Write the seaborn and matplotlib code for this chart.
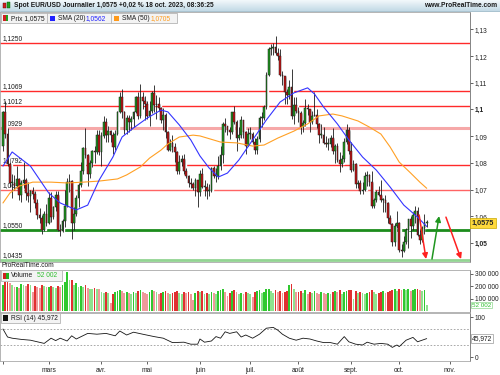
import numpy as np
import pandas as pd
import matplotlib
matplotlib.use('Agg')
import matplotlib.pyplot as plt
import seaborn as sns
from matplotlib.patches import Rectangle
from matplotlib.transforms import Affine2D, blended_transform_factory
from matplotlib.colors import LinearSegmentedColormap

# daily EUR/USD candles, 1 Feb -> 18 Oct 2023
first_open = 1.0863

closes_feb = [1.0990, 1.0910, 1.0795, 1.0725, 1.0726, 1.0712, 1.0740, 1.0678, 1.0723, 1.0737,
              1.0688, 1.0675, 1.0695, 1.0685, 1.0650, 1.0605, 1.0595, 1.0547, 1.0608, 1.0576]
highs_feb = [1.0995, 1.1033, 1.0930, 1.0805, 1.0760, 1.0755, 1.0790, 1.0745, 1.0735, 1.0805,
             1.0745, 1.0730, 1.0700, 1.0710, 1.0695, 1.0665, 1.0630, 1.0605, 1.0620, 1.0645]
lows_feb = [1.0845, 1.0895, 1.0790, 1.0710, 1.0670, 1.0700, 1.0705, 1.0660, 1.0655, 1.0705,
            1.0660, 1.0655, 1.0615, 1.0665, 1.0630, 1.0590, 1.0575, 1.0535, 1.0545, 1.0565]

closes_mar = [1.0667, 1.0598, 1.0634, 1.0681, 1.0549, 1.0546, 1.0581, 1.0640, 1.0730, 1.0733, 1.0576, 1.0610,
              1.0670, 1.0717, 1.0770, 1.0855, 1.0830, 1.0760, 1.0800, 1.0845, 1.0840, 1.0905, 1.0840]
highs_mar = [1.0690, 1.0690, 1.0640, 1.0695, 1.0695, 1.0570, 1.0590, 1.0700, 1.0745, 1.0760, 1.0735, 1.0635,
             1.0680, 1.0725, 1.0805, 1.0860, 1.0930, 1.0835, 1.0810, 1.0850, 1.0865, 1.0925, 1.0925]
lows_mar = [1.0570, 1.0580, 1.0590, 1.0620, 1.0545, 1.0525, 1.0540, 1.0560, 1.0635, 1.0690, 1.0516, 1.0550,
            1.0600, 1.0635, 1.0710, 1.0760, 1.0820, 1.0715, 1.0745, 1.0785, 1.0800, 1.0835, 1.0830]

closes_apr = [1.0900, 1.0955, 1.0905, 1.0920, 1.0905, 1.0860, 1.0910, 1.0990, 1.1045, 1.0990,
              1.0925, 1.0970, 1.0955, 1.0965, 1.0990, 1.1045, 1.0975, 1.1045, 1.1030, 1.1020]
highs_apr = [1.0915, 1.0975, 1.0970, 1.0940, 1.0925, 1.0915, 1.0925, 1.0995, 1.1065, 1.1075,
             1.0995, 1.0980, 1.0980, 1.0975, 1.0995, 1.1050, 1.1065, 1.1095, 1.1065, 1.1050]
lows_apr = [1.0790, 1.0895, 1.0880, 1.0880, 1.0880, 1.0835, 1.0850, 1.0905, 1.0985, 1.0970,
            1.0910, 1.0910, 1.0915, 1.0925, 1.0935, 1.0985, 1.0965, 1.0970, 1.1000, 1.0960]

closes_may = [1.0975, 1.0995, 1.1060, 1.1015, 1.1020, 1.1005, 1.0960, 1.0980, 1.0915, 1.0850, 1.0875, 1.0860,
              1.0840, 1.0770, 1.0805, 1.0815, 1.0770, 1.0750, 1.0725, 1.0720, 1.0705, 1.0735, 1.0690]
highs_may = [1.1030, 1.1030, 1.1070, 1.1092, 1.1055, 1.1045, 1.1010, 1.1005, 1.0985, 1.0920, 1.0890, 1.0905,
             1.0875, 1.0845, 1.0830, 1.0830, 1.0835, 1.0780, 1.0755, 1.0745, 1.0730, 1.0745, 1.0735]
lows_may = [1.0965, 1.0940, 1.0985, 1.0990, 1.0965, 1.0995, 1.0950, 1.0925, 1.0895, 1.0845, 1.0845, 1.0840,
            1.0805, 1.0760, 1.0760, 1.0790, 1.0760, 1.0745, 1.0710, 1.0705, 1.0700, 1.0675, 1.0635]

closes_jun = [1.0760, 1.0710, 1.0710, 1.0695, 1.0695, 1.0780, 1.0750, 1.0750, 1.0790, 1.0830, 1.0945,
              1.0940, 1.0925, 1.0915, 1.0990, 1.0955, 1.0895, 1.0905, 1.0960, 1.0915, 1.0865, 1.0910]
highs_jun = [1.0775, 1.0780, 1.0735, 1.0725, 1.0720, 1.0785, 1.0790, 1.0780, 1.0825, 1.0865, 1.0955,
             1.0970, 1.0940, 1.0935, 1.0990, 1.1012, 1.0960, 1.0935, 1.0975, 1.0960, 1.0920, 1.0930]
lows_jun = [1.0675, 1.0705, 1.0675, 1.0665, 1.0675, 1.0690, 1.0745, 1.0730, 1.0740, 1.0775, 1.0800,
            1.0915, 1.0905, 1.0890, 1.0910, 1.0945, 1.0845, 1.0885, 1.0895, 1.0895, 1.0835, 1.0865]

closes_jul = [1.0910, 1.0880, 1.0850, 1.0890, 1.0970, 1.0970, 1.1010, 1.1130, 1.1225, 1.1230, 1.1235,
              1.1210, 1.1200, 1.1130, 1.1125, 1.1065, 1.1055, 1.1085, 1.0975, 1.1015, 1.0995]
highs_jul = [1.0935, 1.0915, 1.0895, 1.0900, 1.0975, 1.0990, 1.1015, 1.1140, 1.1235, 1.1245, 1.1250,
             1.1276, 1.1230, 1.1225, 1.1145, 1.1125, 1.1075, 1.1110, 1.1150, 1.1045, 1.1045]
lows_jul = [1.0890, 1.0870, 1.0835, 1.0835, 1.0880, 1.0935, 1.0960, 1.1000, 1.1125, 1.1205, 1.1205,
            1.1205, 1.1185, 1.1125, 1.1090, 1.1020, 1.1020, 1.1040, 1.0965, 1.0945, 1.0985]

closes_aug = [1.0985, 1.0935, 1.0950, 1.1005, 1.1000, 1.0955, 1.0975, 1.0980, 1.0945, 1.0905, 1.0905, 1.0875,
              1.0870, 1.0870, 1.0895, 1.0845, 1.0865, 1.0810, 1.0795, 1.0815, 1.0880, 1.0925, 1.0845]
highs_aug = [1.1010, 1.0995, 1.0960, 1.1040, 1.1020, 1.1000, 1.0995, 1.1064, 1.1000, 1.0950, 1.0945, 1.0935,
             1.0900, 1.0895, 1.0905, 1.0930, 1.0870, 1.0875, 1.0840, 1.0830, 1.0895, 1.0945, 1.0935]
lows_aug = [1.0955, 1.0910, 1.0915, 1.0940, 1.0980, 1.0915, 1.0945, 1.0975, 1.0930, 1.0875, 1.0895, 1.0870,
            1.0860, 1.0850, 1.0860, 1.0835, 1.0800, 1.0805, 1.0765, 1.0785, 1.0805, 1.0870, 1.0835]

closes_sep = [1.0775, 1.0795, 1.0720, 1.0725, 1.0695, 1.0700, 1.0750, 1.0755, 1.0730, 1.0640, 1.0660,
              1.0690, 1.0680, 1.0660, 1.0660, 1.0650, 1.0595, 1.0570, 1.0505, 1.0565, 1.0575]
highs_sep = [1.0880, 1.0810, 1.0800, 1.0735, 1.0735, 1.0730, 1.0765, 1.0770, 1.0760, 1.0770, 1.0670,
             1.0700, 1.0715, 1.0735, 1.0670, 1.0680, 1.0655, 1.0605, 1.0575, 1.0575, 1.0620]
lows_sep = [1.0765, 1.0770, 1.0705, 1.0705, 1.0685, 1.0685, 1.0695, 1.0715, 1.0715, 1.0630, 1.0630,
            1.0655, 1.0675, 1.0655, 1.0615, 1.0615, 1.0575, 1.0570, 1.0490, 1.0490, 1.0555]

closes_oct = [1.0475, 1.0470, 1.0505, 1.0550, 1.0590, 1.0565, 1.0605, 1.0620, 1.0530, 1.0510, 1.0555, 1.0575, 1.0575]
highs_oct = [1.0580, 1.0495, 1.0525, 1.0555, 1.0590, 1.0600, 1.0615, 1.0640, 1.0635, 1.0550, 1.0565, 1.0610, 1.0585]
lows_oct = [1.0465, 1.0448, 1.0465, 1.0495, 1.0480, 1.0520, 1.0550, 1.0575, 1.0525, 1.0495, 1.0505, 1.0535, 1.0560]

# volume, thousands
vol_feb = [210, 231, 238, 224, 210, 196, 196, 189, 218, 210, 203, 218, 210, 154, 203, 196, 189, 210, 203, 196]
vol_mar = [196, 203, 196, 189, 203, 196, 210, 238, 317, 252, 252, 210, 224, 196, 203, 196, 210, 189, 182, 175,
           189, 182, 175]
vol_apr = [154, 147, 154, 147, 62, 140, 154, 161, 168, 161, 147, 154, 147, 140, 154, 147, 161, 168, 154, 147]
vol_may = [140, 154, 168, 161, 154, 140, 147, 154, 161, 147, 140, 147, 154, 161, 147, 140, 154, 147, 154, 140,
           90, 147, 161]
vol_jun = [154, 161, 140, 147, 140, 154, 147, 140, 161, 168, 175, 154, 118, 147, 161, 168, 154, 140, 147, 140,
           154, 147]
vol_jul = [140, 110, 154, 161, 168, 147, 154, 175, 182, 161, 147, 168, 154, 161, 147, 154, 161, 210, 217, 175, 154]
vol_aug = [154, 161, 147, 168, 140, 154, 147, 161, 147, 140, 154, 147, 140, 147, 140, 154, 161, 154, 168, 140,
           154, 161, 168]
vol_sep = [168, 98, 161, 147, 154, 147, 140, 147, 154, 168, 154, 140, 147, 154, 161, 147, 154, 161, 168, 175, 161]
vol_oct = [175, 168, 175, 168, 175, 161, 168, 175, 182, 168, 161, 168, 52.002]

# indicators (candle index, value)
sma20_idx = [0, 4, 12, 20, 25, 32, 37, 42, 48, 52, 57, 63, 69, 72, 77, 82, 86, 90, 94, 98, 103, 109, 115, 121,
             127, 133, 136, 140, 146, 151, 157, 163, 169, 175, 181, 185]
sma20_vals = [1.0788, 1.0841, 1.0788, 1.0687, 1.0650, 1.0624, 1.0642, 1.0736, 1.0822, 1.0897, 1.0931, 1.0968,
              1.0998, 1.0991, 1.0942, 1.0886, 1.0826, 1.0781, 1.0747, 1.0762, 1.0811, 1.0886, 1.0961, 1.1028,
              1.1062, 1.1081, 1.1058, 1.1009, 1.0946, 1.0886, 1.0822, 1.0773, 1.0710, 1.0642, 1.0597, 1.0562]
sma50_idx = [0, 3, 7, 13, 21, 28, 35, 42, 50, 54, 60, 64, 69, 72, 77, 83, 86, 95, 102, 109, 114, 120, 127, 133,
             138, 144, 148, 155, 160, 165, 169, 173, 178, 182, 185]
sma50_vals = [1.0650, 1.0687, 1.0713, 1.0728, 1.0728, 1.0725, 1.0728, 1.0732, 1.0740, 1.0755, 1.0785, 1.0818,
              1.0848, 1.0871, 1.0897, 1.0904, 1.0901, 1.0878, 1.0875, 1.0863, 1.0867, 1.0893, 1.0919, 1.0946,
              1.0976, 1.0983, 1.0976, 1.0957, 1.0934, 1.0908, 1.0860, 1.0803, 1.0762, 1.0728, 1.0705]
rsi_idx = [0, 1, 2, 4, 8, 12, 18, 21, 23, 25, 28, 30, 32, 37, 41, 45, 49, 51, 54, 57, 61, 66, 70, 74, 79, 82, 85,
           86, 88, 91, 93, 95, 97, 99, 102, 104, 106, 109, 112, 115, 118, 120, 122, 125, 128, 131, 134, 137, 140,
           143, 146, 149, 151, 154, 157, 159, 162, 165, 168, 170, 172, 173, 176, 179, 181, 185]
rsi_vals = [70, 60, 50, 47, 44, 42, 34, 47, 41, 47, 40, 53, 45, 59, 57, 59, 53, 65, 55, 62, 57, 51, 47, 36, 37,
            32, 32, 45, 37, 40, 51, 47, 63, 59, 63, 50, 55, 47, 57, 72, 74, 67, 57, 47, 42, 47, 45, 40, 36, 36,
            32, 51, 38, 32, 30, 37, 32, 34, 32, 24, 30, 26, 42, 49, 38, 45.972]

# horizontal support / resistance levels
levels = [1.1250, 1.1069, 1.1012, 1.0929, 1.0792, 1.0697, 1.0550, 1.0435]
level_labels = ['1,1250', '1,1069', '1,1012', '1,0929', '1,0792', '1,0697', '1,0550', '1,0435']
level_colors = ['#ff2a2a', '#ff2a2a', '#ff2a2a', '#f6a8a8', '#ff2a2a', '#ff6464', '#1c8c1c', '#92d492']
level_widths = [1.0, 1.0, 1.0, 2.2, 1.0, 1.0, 2.0, 2.0]

# hand drawn arrows (candle index, price)
arrows = [((181.7, 1.0605), (184.7, 1.0440), '#ff2020'),
          ((187.3, 1.0440), (190.4, 1.0601), '#1f961f'),
          ((193.4, 1.0597), (200.0, 1.0440), '#ff2020')]

month_labels = ['', 'mars', 'avr.', 'mai', 'juin', 'juil.', 'août', 'sept.', 'oct.', 'nov.']

closes = (closes_feb + closes_mar + closes_apr + closes_may + closes_jun + closes_jul + closes_aug
          + closes_sep + closes_oct)
highs = highs_feb + highs_mar + highs_apr + highs_may + highs_jun + highs_jul + highs_aug + highs_sep + highs_oct
lows = lows_feb + lows_mar + lows_apr + lows_may + lows_jun + lows_jul + lows_aug + lows_sep + lows_oct
volumes = vol_feb + vol_mar + vol_apr + vol_may + vol_jun + vol_jul + vol_aug + vol_sep + vol_oct

c = np.array(closes)
o = np.r_[first_open, c[:-1]]       # fx: open = previous close
h = np.array(highs)
l = np.array(lows)
v = np.array(volumes) * 1000
idx = np.arange(len(c))

days = pd.bdate_range('2023-02-01', '2023-10-18')
ext = pd.bdate_range('2023-02-01', '2023-11-30')
month_pos = [int(np.argmax(ext.month == m)) for m in range(2, 12)]

sns.set_style('white')
plt.rcParams['font.family'] = ['Liberation Sans', 'DejaVu Sans']
FS = 4.8

W, H = 500, 375
fig = plt.figure(figsize=(5, 3.75), dpi=100, facecolor='white')
pix = Affine2D().scale(1 / W, -1 / H).translate(0, 1) + fig.transFigure


def rect(x0, y0, x1, y1):
    return [x0 / W, 1 - y1 / H, (x1 - x0) / W, (y1 - y0) / H]


def box(x0, y0, x1, y1, fc='#f3f3f3', ec='#b5b5b5'):
    fig.add_artist(Rectangle((x0, y0), x1 - x0, y1 - y0, transform=pix, fc=fc, ec=ec, lw=0.6, zorder=20))


def label(x, y, s, **kw):
    kw.setdefault('fontsize', FS)
    kw.setdefault('color', '#1a1a1a')
    fig.text(x, y, s, transform=pix, va='center', zorder=21, **kw)


def style_axis(a):
    for sp in a.spines.values():
        sp.set_color('#a8a8a8')
        sp.set_linewidth(0.6)
    a.spines['right'].set_color('#707070')
    a.tick_params(axis='y', which='both', left=False, right=True, labelleft=False, labelright=True,
                  length=2.5, width=0.5, pad=1, labelsize=FS, colors='#222222', direction='out')
    a.tick_params(axis='x', bottom=False, labelbottom=False)
    a.set_xlim(-1.3, 203.9)
    a.grid(False)


# ---- price panel
ax = fig.add_axes(rect(0, 12, 470, 262))
style_axis(ax)
ax.set_ylim(1.0429, 1.1365)
bt = blended_transform_factory(ax.transAxes, ax.transData)

for lev, lab, col, lw in zip(levels, level_labels, level_colors, level_widths):
    ax.axhline(lev, color=col, lw=lw, zorder=1)
    ax.text(0.006, lev + 0.0004, lab, transform=bt, fontsize=FS, color='#1a1a1a', va='bottom', zorder=1.5)

up = c >= o
body_lo = np.minimum(o, c)
body_h = np.maximum(np.abs(c - o), 0.0003)
ax.bar(idx + 0.5, body_h, bottom=body_lo, width=0.6, color='#c2c2c2', zorder=2)
ax.vlines(idx, l, h, color='#1a1a1a', lw=0.6, zorder=3)
ax.bar(idx, body_h, bottom=body_lo, width=0.75, color=np.where(up, '#1e9a1e', '#c41414'),
       edgecolor='#1a1a1a', linewidth=0.35, zorder=4)

sns.lineplot(x=sma50_idx, y=sma50_vals, ax=ax, color='#ffa024', lw=0.8, zorder=5, sort=False, estimator=None)
sns.lineplot(x=sma20_idx, y=sma20_vals, ax=ax, color='#3434ff', lw=0.8, zorder=5, sort=False, estimator=None)

for (x0, y0), (x1, y1), col in arrows:
    ax.annotate('', xy=(x1, y1), xytext=(x0, y0), zorder=6,
                arrowprops=dict(arrowstyle='-|>', color=col, lw=1.1, mutation_scale=8, shrinkA=0, shrinkB=0))

price_ticks = [1.05, 1.06, 1.07, 1.08, 1.09, 1.10, 1.11, 1.12, 1.13]
ax.set_yticks(price_ticks)
ax.set_yticklabels([f'{t:.2f}'.rstrip('0').replace('.', ',') for t in price_ticks])
for t in ax.get_yticklabels():
    if t.get_text() in ('1,1', '1,05'):
        t.set_fontweight('bold')
ax.set_xlabel('')
ax.set_ylabel('')
ax.text(1.004, c[-1], f'{c[-1]:.4f}'.replace('.', ','), transform=bt, fontsize=5.2, weight='bold',
        va='center', ha='left', zorder=10, clip_on=False,
        bbox=dict(boxstyle='square,pad=0.25', fc='#ffd93c', ec='#c9a900', lw=0.5))

# ---- volume panel
vax = fig.add_axes(rect(0, 270, 470, 312))
style_axis(vax)
vax.set_ylim(-8000, 332000)
lighter = np.r_[False, v[1:] < v[:-1]]
vcols = np.where(up, np.where(lighter, '#8ee28e', '#2fc82f'), np.where(lighter, '#ef9a9a', '#e03030'))
vax.bar(idx, v, width=0.78, color=vcols, linewidth=0, zorder=2)
vax.set_yticks([100000, 200000, 300000])
vax.set_yticklabels(['100 000', '200 000', '300 000'])
vbt = blended_transform_factory(vax.transAxes, vax.transData)
vax.text(1.004, v[-1] - 4000, '52 002', transform=vbt, fontsize=4.5, color='#2fbf2f', va='center', ha='left',
         zorder=10, clip_on=False, bbox=dict(boxstyle='square,pad=0.1', fc='white', ec='#8fd88f', lw=0.5))

# ---- RSI panel
rax = fig.add_axes(rect(0, 313, 470, 361))
style_axis(rax)
rax.set_ylim(-10, 110)
rax.axhline(70, color='#9a9a9a', lw=0.6, ls=(0, (2, 2)), zorder=1)
rax.axhline(30, color='#9a9a9a', lw=0.6, ls=(0, (2, 2)), zorder=1)
sns.lineplot(x=rsi_idx, y=rsi_vals, ax=rax, color='#151515', lw=0.6, sort=False, estimator=None)
rax.set_yticks([0, 100])
rax.set_yticklabels(['0', '100'])
rax.set_xlabel('')
rax.set_ylabel('')
rax.set_xticks(month_pos)
rax.set_xticklabels(month_labels)
rax.tick_params(axis='x', bottom=True, labelbottom=True, length=2.5, width=0.5, pad=1.5,
                labelsize=FS, colors='#222222', direction='out')
rbt = blended_transform_factory(rax.transAxes, rax.transData)
rax.text(1.004, rsi_vals[-1], '45,972', transform=rbt, fontsize=FS, color='#1a1a1a', va='center', ha='left',
         zorder=10, clip_on=False, bbox=dict(boxstyle='square,pad=0.2', fc='white', ec='#9a9a9a', lw=0.5))

# ---- title bar
tax = fig.add_axes(rect(0, 0, 500, 11))
tax.imshow(np.linspace(0, 1, 20).reshape(-1, 1), aspect='auto', extent=[0, 1, 0, 1],
           cmap=LinearSegmentedColormap.from_list('bar', ['#f2f8fb', '#c3dae6']))
tax.axis('off')
fig.add_artist(plt.Line2D([0, 500], [11.2, 11.2], transform=pix, color='#9ab8c8', lw=0.6))
fig.add_artist(Rectangle((3, 3), 2.5, 5, transform=pix, fc='#d02020', ec='#600000', lw=0.3, zorder=21))
fig.add_artist(Rectangle((7, 2), 2.5, 6, transform=pix, fc='#20a020', ec='#005000', lw=0.3, zorder=21))
label(14, 5.5, 'Spot EUR/USD Journalier 1,0575 +0,02 % 18 oct. 2023, 08:36:25', fontweight='bold')
label(497, 5.5, 'www.ProRealTime.com', fontweight='bold', ha='right')

# ---- legends
box(1, 13, 177, 23)
fig.add_artist(Rectangle((3, 15), 2.5, 6, transform=pix, fc='#d02020', lw=0, zorder=21))
fig.add_artist(Rectangle((5.5, 15), 2.5, 6, transform=pix, fc='#20a020', lw=0, zorder=21))
label(11, 18.2, 'Prix 1,0575')
fig.add_artist(plt.Line2D([47, 47], [13, 23], transform=pix, color='#b5b5b5', lw=0.6, zorder=21))
fig.add_artist(Rectangle((50, 15.5), 5, 5, transform=pix, fc='#2020ff', lw=0, zorder=21))
label(58, 18.2, 'SMA (20)')
label(86, 18.2, '1,0562', color='#2020ff')
fig.add_artist(plt.Line2D([111, 111], [13, 23], transform=pix, color='#b5b5b5', lw=0.6, zorder=21))
fig.add_artist(Rectangle((114, 15.5), 5, 5, transform=pix, fc='#ff9a1a', lw=0, zorder=21))
label(122, 18.2, 'SMA (50)')
label(151, 18.2, '1,0705', color='#ff9a1a')

label(2, 265.5, 'ProRealTime.com')

box(1, 270, 62, 281)
fig.add_artist(Rectangle((3, 272.5), 2.8, 6, transform=pix, fc='#d02020', lw=0, zorder=21))
fig.add_artist(Rectangle((5.8, 272.5), 2.8, 6, transform=pix, fc='#20b020', lw=0, zorder=21))
label(11, 275.5, 'Volume')
label(37, 275.5, '52 002', color='#2fbf2f')

box(1, 313, 60, 323)
fig.add_artist(Rectangle((3, 315), 5, 5.5, transform=pix, fc='#111111', lw=0, zorder=21))
label(11, 318, 'RSI (14) 45,972')

fig.savefig('out.png', dpi=100, facecolor='white')
